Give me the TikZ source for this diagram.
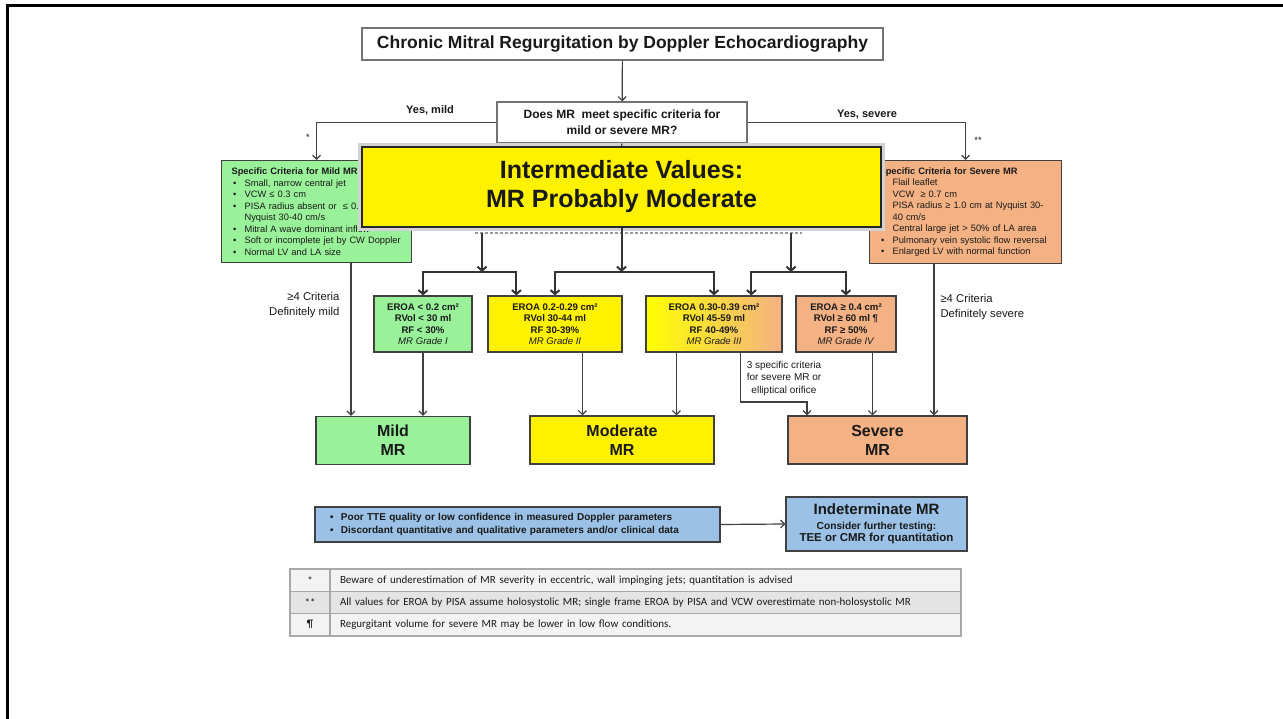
\documentclass[tikz,border=0pt]{standalone}
\usepackage{fontspec}
\setmainfont{Liberation Sans}
\newfontfamily\tabfont{Carlito}
\usetikzlibrary{arrows.meta,calc}

\definecolor{mildgreen}{RGB}{153,242,153}
\definecolor{sevorange}{RGB}{244,177,131}
\definecolor{indblue}{RGB}{155,194,230}
\definecolor{edge}{RGB}{64,64,64}
\definecolor{tabfill}{RGB}{243,243,243}
\definecolor{tabfilldark}{RGB}{228,228,228}
\definecolor{tabedge}{RGB}{168,168,168}

\newcommand\fsz[2]{\fontsize{#1}{#2}\selectfont}
\newcommand\critem{\makebox[13pt][l]{\hspace*{1.5pt}•}}
\newcommand\inditem{\makebox[13pt][l]{\hspace*{2pt}•}}

\begin{document}
\begin{tikzpicture}[x=1pt,y=-1pt,
  every node/.style={font=\fsz{9.3}{11.5}, text=black!90},
  frame/.style={draw=edge, line width=1.2pt, inner sep=0pt, align=center},
  whitebox/.style={frame, fill=white, draw=black!55},
  critbox/.style={frame, align=left, inner xsep=10pt, inner ysep=0pt, anchor=north west},
  gradebox/.style={frame, minimum height=56, font=\fsz{9.6}{11.5}},
  outbox/.style={frame, minimum height=48, font=\fsz{16}{19}\bfseries},
  tcell/.style={draw=tabedge, line width=1.3pt, minimum height=22.3, inner sep=0pt, font=\tabfont\fsz{11}{12}},
  tmark/.style={tcell, minimum width=40, align=center},
  ttext/.style={tcell, text width=611, inner xsep=10pt, align=left},
  ln/.style={draw=edge, line width=1.2pt},
  arr/.style={ln, -{Straight Barb[length=4pt,width=8pt]}},
  arrb/.style={draw=black!80, line width=2pt, -{Straight Barb[length=4pt,width=9pt]}},
]
\useasboundingbox (0,0) rectangle (1283,719);
\fill[white] (0,0) rectangle (1283,719);
% page frame, top and left edges
\draw[line width=3pt] (7,719) -- (7,6) -- (1283,6);

% title and entry question
\node[whitebox, minimum width=521, minimum height=32, font=\fsz{17.5}{20}\bfseries] (title) at (622.5,44)
  {Chronic Mitral Regurgitation by Doppler Echocardiography};
\node[whitebox, minimum width=250, minimum height=41, font=\fsz{12}{16}\bfseries] (q) at (622,122.5)
  {Does MR\ \ meet specific criteria for\\mild or severe MR?};

% specific criteria boxes
\node[critbox, fill=mildgreen, text width=170, minimum height=102] (gcrit) at (221,160)
  {\textbf{Specific Criteria for Mild MR}\\
   \critem Small, narrow central jet\\
   \critem VCW ≤ 0.3 cm\\
   \critem PISA radius absent or\ \ ≤ 0.3 cm at\\
   \hspace*{13pt}Nyquist 30-40 cm/s\\
   \critem Mitral A wave dominant inflow\\
   \critem Soft or incomplete jet by CW Doppler\\
   \critem Normal LV and LA size};
\node[critbox, fill=sevorange, text width=172, minimum height=103] (ocrit) at (869,160)
  {\textbf{Specific Criteria for Severe MR}\\
   \critem Flail leaflet\\
   \critem VCW\ \ ≥ 0.7 cm\\
   \critem PISA radius ≥ 1.0 cm at Nyquist 30-\\
   \hspace*{13pt}40 cm/s\\
   \critem Central large jet > 50\% of LA area\\
   \critem Pulmonary vein systolic flow reversal\\
   \critem Enlarged LV with normal function};

% intermediate values
\node[frame, fill=yellow, draw=black!85, line width=2pt, preaction={draw=gray!35, line width=8pt},
      minimum width=519, minimum height=80, font=\fsz{25}{29}\bfseries] (yb) at (621.5,187)
  {Intermediate Values:\\MR Probably Moderate};

% quantitative grades
\node[gradebox, fill=mildgreen, minimum width=98] (b1) at (423,324)
  {\textbf{EROA < 0.2 cm²}\\\textbf{RVol < 30 ml}\\\textbf{RF < 30\%}\\\textit{MR Grade I}};
\node[gradebox, fill=yellow, minimum width=134] (b2) at (555,324)
  {\textbf{EROA 0.2-0.29 cm²}\\\textbf{RVol 30-44 ml}\\\textbf{RF 30-39\%}\\\textit{MR Grade II}};
\node[gradebox, left color=yellow, middle color=yellow!65!sevorange, right color=sevorange, minimum width=136] (b3) at (714,324)
  {\textbf{EROA 0.30-0.39 cm²}\\\textbf{RVol 45-59 ml}\\\textbf{RF 40-49\%}\\\textit{MR Grade III}};
\node[gradebox, fill=sevorange, minimum width=100] (b4) at (846,324)
  {\textbf{EROA ≥ 0.4 cm²}\\\textbf{RVol ≥ 60 ml ¶}\\\textbf{RF ≥ 50\%}\\\textit{MR Grade IV}};

% outcomes
\node[outbox, fill=mildgreen, minimum width=154] (mild) at (393,440.5) {Mild\\MR};
\node[outbox, fill=yellow, minimum width=184] (mod) at (622,440) {Moderate\\MR};
\node[outbox, fill=sevorange, minimum width=179] (sev) at (877.5,440) {Severe\\MR};

% indeterminate
\node[frame, fill=indblue, text width=379, align=left, inner xsep=13pt, minimum height=35,
      font=\fsz{10}{13}\bfseries] (ileft) at (517.5,524.5)
  {\inditem Poor TTE quality or low confidence in measured Doppler parameters\\
   \inditem Discordant quantitative and qualitative parameters and/or clinical data};
\node[frame, fill=indblue, minimum width=181, minimum height=54] (iright) at (876.5,524)
  {{\fsz{15}{17}\bfseries Indeterminate MR}\\[3pt]
   {\fsz{10.2}{13}\bfseries Consider further testing:}\\[1pt]
   {\fsz{11.5}{13}\bfseries TEE or CMR for quantitation}};

% footnote table
\node[tmark, fill=tabfill] (m1) at (310,580.2) {*};
\node[ttext, fill=tabfill] (t1) at (645.5,580.2)
  {Beware of underestimation of MR severity in eccentric, wall impinging jets; quantitation is advised};
\node[tmark, fill=tabfilldark] (m2) at (310,602.5) {**};
\node[ttext, fill=tabfilldark] (t2) at (645.5,602.5)
  {All values for EROA by PISA assume holosystolic MR; single frame EROA by PISA and VCW overestimate non-holosystolic MR};
\node[tmark, fill=tabfill] (m3) at (310,624.8) {¶};
\node[ttext, fill=tabfill] (t3) at (645.5,624.8)
  {Regurgitant volume for severe MR may be lower in low flow conditions.};

% labels
\node[font=\fsz{11}{13}\bfseries] (ym) at (430,110) {Yes, mild};
\node[font=\fsz{11}{13}\bfseries] (ys) at (867,115) {Yes, severe};
\node (st1) at (308,137) {*};
\node (st2) at (978,140) {**};
\node[align=right, anchor=east, font=\fsz{11.3}{14.5}] (lm) at (343,305) {≥4 Criteria\\Definitely mild};
\node[align=left, anchor=west, font=\fsz{11.3}{14.5}] (ls) at (937,307) {≥4 Criteria\\Definitely severe};
\node[align=center, font=\fsz{10}{12.5}] (l3) at (784,378) {3 specific criteria\\for severe MR or\\elliptical orifice};

% helper points
\coordinate (dl) at (475,233);
\coordinate (dr) at (802,233);
\coordinate (d1) at (482,233);
\coordinate (d3) at (791,233);
\coordinate (jl) at (482,272);
\coordinate (jm) at (621.5,272);
\coordinate (jr) at (791,272);
\coordinate (gx) at ($(gcrit.south west)+(130,0)$);
\coordinate (ox) at ($(ocrit.south west)+(65,0)$);
\coordinate (b2x) at ($(b2.south west)+(95,0)$);
\coordinate (b3a) at ($(b3.south west)+(31,0)$);
\coordinate (b3b) at ($(b3.south west)+(95,0)$);
\coordinate (b4x) at ($(b4.south west)+(77,0)$);
\coordinate (elb) at (807,402);

% connectors
\draw[arr] (title) -- (q);
\draw[arr] (q.west) -| (gcrit.north);
\draw[arr] (q.east) -| (ocrit.north);
\draw[ln] (q.south) -- (yb.north);
\draw[draw=gray!80, line width=1.3pt, dash pattern=on 3pt off 2pt] (dl) -- (dr);

\draw[arrb] (d1) -- (jl);
\draw[arrb] (yb.south) -- (jm);
\draw[arrb] (d3) -- (jr);
\draw[arrb] (jl) -| (b1.north);
\draw[arrb] (jl) -| ([xshift=29pt]b2.north west);
\draw[arrb] (jm) -| (b2.north);
\draw[arrb] (jm) -| (b3.north);
\draw[arrb] (jr) -| ([xshift=106pt]b3.north west);
\draw[arrb] (jr) -| (b4.north);

\draw[arr] (gx) -- (gx |- mild.north);
\draw[arr] (b1.south) -- (b1.south |- mild.north);
\draw[arr] (b2x) -- (b2x |- mod.north);
\draw[arr] (b3a) -- (b3a |- mod.north);
\draw[arr] (b3b) |- (elb) -- (elb |- sev.north);
\draw[arr] (b4x) -- (b4x |- sev.north);
\draw[arr] (ox) -- (ox |- sev.north);

\draw[arr] (ileft.east) -- (iright.west);
\end{tikzpicture}
\end{document}
